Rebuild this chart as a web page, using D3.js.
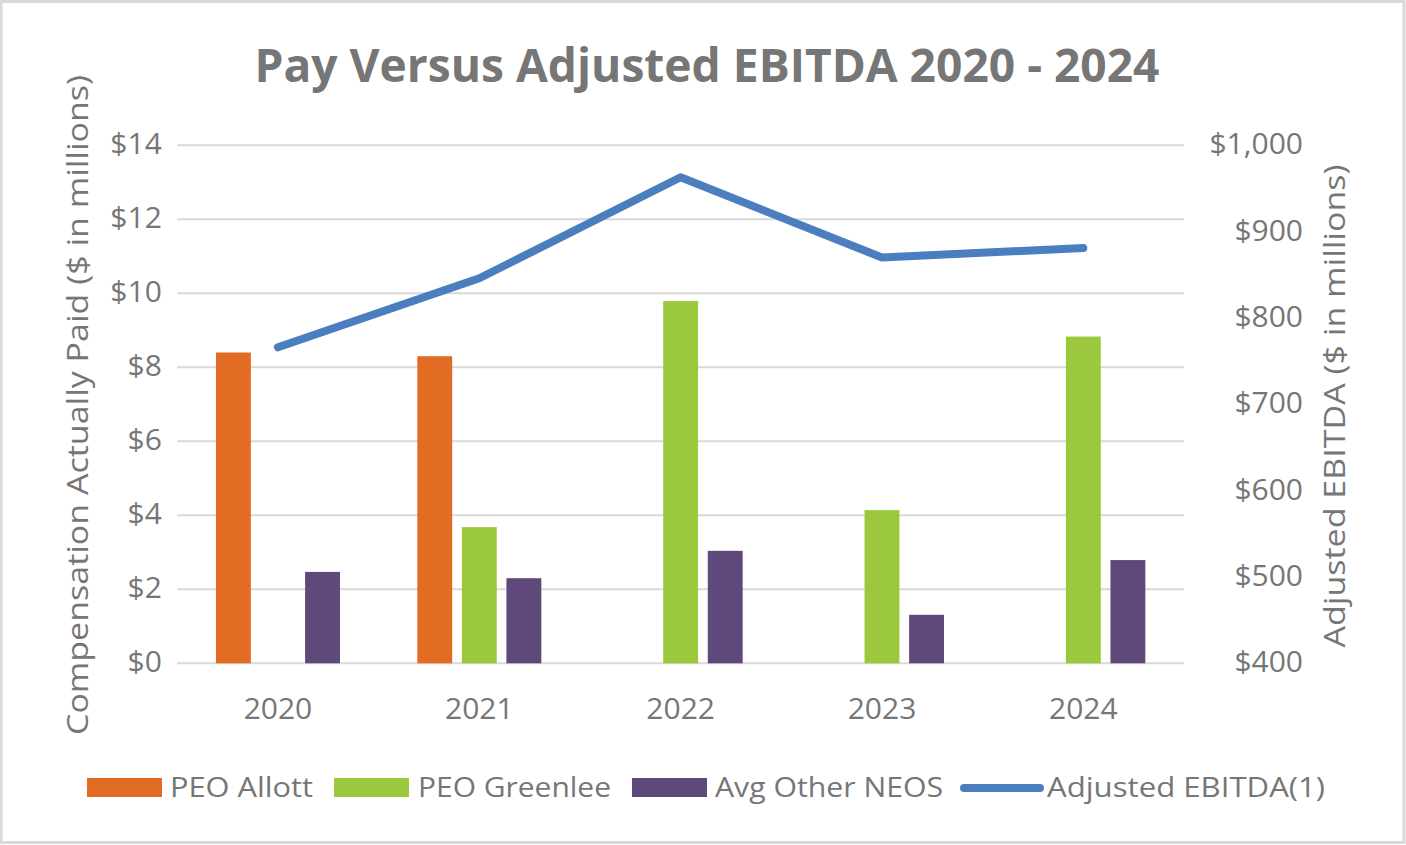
<!DOCTYPE html>
<html><head><meta charset="utf-8">
<script src="https://cdn.jsdelivr.net/npm/d3@7"></script>
<style>body{margin:0;background:#fff}svg{display:block}text{font-family:"Open Sans",sans-serif}</style>
</head><body><svg id="c" width="1406" height="845"></svg>
<script>
const years = ["2020","2021","2022","2023","2024"];
const seriesNames = ["PEO Allott","PEO Greenlee","Avg Other NEOS"];
const peoAllott = [8.4, 8.3, null, null, null];
const peoGreenlee = [null, 3.68, 9.79, 4.14, 8.83];
const avgOtherNeos = [2.47, 2.3, 3.04, 1.31, 2.79];
const ebitda = [766, 846, 963, 870, 881];
const leftTicks = [0,2,4,6,8,10,12,14];
const rightTicks = [400,500,600,700,800,900,1000];
const colors = ["#E36C25","#9BC83C","#5F497A"];
const lineColor = "#4A7EBF";
const textColor = "#767676";

const svg = d3.select("#c");
svg.append("rect").attr("x",1).attr("y",1.5).attr("width",1403).attr("height",841).attr("fill","#fff").attr("stroke","#d9d9d9").attr("stroke-width",3);

const L=177.3, R=1184, T=145.3, B=663.3;
const x0 = d3.scaleBand().domain(years).range([L,R]).paddingInner(0.384).paddingOuter(0.192);
const x1 = d3.scaleBand().domain(seriesNames).range([0,x0.bandwidth()]).paddingInner(0.217);
const yL = d3.scaleLinear().domain([0,14]).range([B,T]);
const yR = d3.scaleLinear().domain([400,1000]).range([B,T]);

// gridlines
svg.append("g").selectAll("line").data(leftTicks).join("line")
  .attr("x1",L).attr("x2",R).attr("y1",d=>yL(d)).attr("y2",d=>yL(d))
  .attr("stroke","#d9d9d9").attr("stroke-width",2);

// left axis
const gl = svg.append("g").attr("transform",`translate(${L},0)`)
  .call(d3.axisLeft(yL).tickValues(leftTicks).tickSize(0).tickPadding(15.5).tickFormat(d=>"$"+d));
gl.select(".domain").remove();
gl.selectAll("text").attr("font-size",30).attr("fill",textColor).attr("font-family","Open Sans").attr("dy","0.28em");

// right axis
const gr = svg.append("g").attr("transform",`translate(1303,0)`)
  .call(d3.axisLeft(yR).tickValues(rightTicks).tickSize(0).tickPadding(0).tickFormat(d=>"$"+d3.format(",")(d)));
gr.select(".domain").remove();
gr.selectAll("text").attr("font-size",30).attr("fill",textColor).attr("font-family","Open Sans").attr("dy","0.28em");

// x axis
const gx = svg.append("g").attr("transform",`translate(0,${B})`)
  .call(d3.axisBottom(x0).tickSize(0).tickPadding(34));
gx.select(".domain").remove();
gx.selectAll("text").attr("font-size",30).attr("fill",textColor).attr("font-family","Open Sans");

// bars
const seriesVals = [peoAllott, peoGreenlee, avgOtherNeos];
seriesNames.forEach((s,si)=>{
  svg.append("g").selectAll("rect").data(years.map((y,i)=>({y,v:seriesVals[si][i]})).filter(d=>d.v!=null))
    .join("rect")
    .attr("x",d=>x0(d.y)+x1(s)).attr("width",x1.bandwidth())
    .attr("y",d=>yL(d.v)).attr("height",d=>yL(0)-yL(d.v))
    .attr("fill",colors[si]);
});

// line
const line = d3.line().x((d,i)=>x0(years[i])+x0.bandwidth()/2).y(d=>yR(d));
svg.append("path").attr("d",line(ebitda)).attr("fill","none").attr("stroke",lineColor)
  .attr("stroke-width",8).attr("stroke-linecap","round").attr("stroke-linejoin","round");

// title
svg.append("text").attr("x",707).attr("y",82).attr("text-anchor","middle")
  .attr("font-size",46).attr("font-weight","bold").attr("fill",textColor)
  .attr("textLength",905).attr("lengthAdjust","spacingAndGlyphs")
  .text("Pay Versus Adjusted EBITDA 2020 - 2024");

// axis titles
svg.append("text").attr("transform","translate(88,405) rotate(-90)").attr("text-anchor","middle")
  .attr("font-size",29).attr("fill",textColor).attr("textLength",660).attr("lengthAdjust","spacingAndGlyphs")
  .text("Compensation Actually Paid ($ in millions)");
svg.append("text").attr("transform","translate(1345,406) rotate(-90)").attr("text-anchor","middle")
  .attr("font-size",29).attr("fill",textColor).attr("textLength",483).attr("lengthAdjust","spacingAndGlyphs")
  .text("Adjusted EBITDA ($ in millions)");

// legend
const legend = [
  {name:"PEO Allott", type:"rect", c:colors[0], sx:87, tx:170, tw:143},
  {name:"PEO Greenlee", type:"rect", c:colors[1], sx:334, tx:418, tw:193},
  {name:"Avg Other NEOS", type:"rect", c:colors[2], sx:632, tx:715, tw:228},
  {name:"Adjusted EBITDA(1)", type:"line", c:lineColor, sx:964, tx:1047, tw:278}
];
const lg = svg.append("g");
legend.forEach(d=>{
  if(d.type==="rect") lg.append("rect").attr("x",d.sx).attr("y",778).attr("width",75).attr("height",19).attr("fill",d.c);
  else lg.append("line").attr("x1",d.sx).attr("x2",1040).attr("y1",788).attr("y2",788).attr("stroke",d.c).attr("stroke-width",8).attr("stroke-linecap","round");
  lg.append("text").attr("x",d.tx).attr("y",797).attr("font-size",28).attr("fill",textColor)
    .attr("textLength",d.tw).attr("lengthAdjust","spacingAndGlyphs").text(d.name);
});
</script></body></html>
